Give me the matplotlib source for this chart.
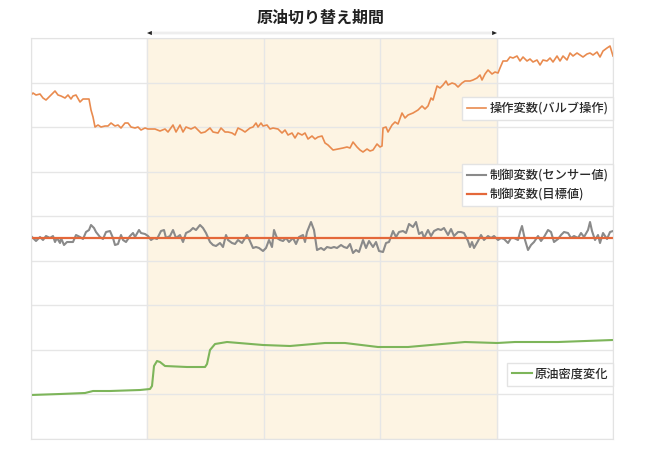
import numpy as np
import matplotlib.pyplot as plt

plt.rcParams["font.family"] = ["Noto Sans CJK JP", "DejaVu Sans"]

# ===================================================
# DATA (time in samples, values in arbitrary units)
# ===================================================

t_end = 582
switch_start = 116
switch_end = 466

# 操作変数(バルブ操作)
mv_time = [
    0, 2, 5, 9, 12, 15, 19, 22, 24, 27,
    30, 34, 37, 40, 42, 45, 49, 52, 55, 58,
    60, 62, 64, 67, 70, 74, 77, 80, 84, 87,
    90, 94, 97, 100, 104, 107, 110, 114, 117, 124,
    129, 134, 137, 142, 145, 149, 152, 155, 160, 164,
    167, 170, 174, 179, 182, 187, 190, 194, 197, 201,
    204, 207, 211, 214, 219, 222, 225, 227, 230, 232,
    236, 239, 242, 247, 251, 254, 257, 261, 264, 267,
    271, 274, 277, 281, 284, 287, 291, 294, 297, 302,
    307, 312, 316, 319, 322, 326, 329, 332, 336, 339,
    342, 346, 349, 351, 352, 355, 357, 361, 364, 367,
    371, 374, 377, 382, 387, 391, 394, 397, 400, 402,
    406, 409, 412, 415, 417, 421, 424, 427, 431, 434,
    439, 442, 446, 449, 451, 454, 457, 461, 464, 467,
    469, 472, 476, 479, 482, 486, 489, 492, 496, 499,
    502, 506, 509, 512, 516, 519, 522, 526, 529, 532,
    536, 539, 542, 546, 549, 552, 556, 559, 562, 566,
    569, 572, 576, 579, 582,
]
mv_value = [
    344, 346, 344, 345, 341, 339, 343, 346, 348, 344,
    343, 341, 344, 340, 343, 344, 337, 340, 340, 340,
    329, 322, 312, 314, 312, 313, 313, 316, 313, 314,
    311, 316, 316, 312, 311, 312, 309, 311, 310, 310,
    308, 310, 307, 314, 307, 314, 307, 312, 310, 312,
    309, 306, 307, 311, 307, 306, 311, 307, 307, 306,
    304, 311, 309, 307, 311, 312, 316, 312, 316, 313,
    314, 310, 311, 310, 306, 309, 304, 306, 301, 306,
    304, 306, 300, 303, 300, 302, 303, 296, 294, 289,
    290, 291, 292, 291, 297, 292, 289, 287, 290, 288,
    289, 295, 292, 293, 311, 312, 307, 314, 317, 315,
    326, 321, 324, 326, 329, 333, 330, 333, 341, 339,
    353, 351, 354, 358, 354, 356, 355, 352, 356, 358,
    358, 359, 361, 364, 359, 365, 369, 365, 367, 366,
    371, 378, 378, 382, 381, 383, 378, 382, 378, 380,
    377, 379, 374, 379, 378, 381, 377, 383, 378, 383,
    379, 386, 383, 386, 384, 382, 385, 386, 384, 387,
    382, 388, 391, 393, 383,
]

# 制御変数(センサー値)
pv_time = [
    0, 2, 5, 9, 12, 15, 19, 22, 24, 26,
    29, 30, 33, 36, 39, 42, 45, 49, 52, 55,
    58, 60, 63, 65, 69, 72, 75, 79, 82, 84,
    87, 90, 92, 95, 99, 102, 104, 108, 110, 114,
    117, 120, 123, 126, 130, 133, 135, 139, 142, 145,
    149, 152, 155, 159, 162, 165, 169, 172, 175, 179,
    182, 185, 189, 192, 195,
    197, 201, 204, 207, 211, 216, 218, 222, 225, 228,
    232, 235, 238, 241, 243, 246, 249, 252, 255, 258,
    262, 265, 268, 272, 274, 276, 280, 283, 286, 290,
    293, 296, 300, 303, 306, 310, 313, 316, 319, 322,
    325, 328, 332, 335, 338, 342, 345, 348, 352, 355,
    358, 362, 365, 368, 372, 375, 378, 382, 385,
    388, 391, 393, 397, 400, 403, 407, 410, 413, 417,
    420, 423, 427, 430, 433, 437, 439, 441, 443, 447,
    450, 453, 457, 460, 463, 467, 470, 473, 477, 480,
    483, 487, 489, 491, 494, 497, 500, 503, 507, 510,
    513, 517, 520, 523, 527, 530, 533, 537, 540, 543,
    547, 550, 553, 557, 559, 561, 564, 567, 569, 572,
    576, 579, 582,
]
pv_value = [
    203, 201, 198, 202, 199, 203, 201, 203, 197, 201,
    196, 201, 194, 197, 197, 197, 204, 202, 200, 207,
    209, 214, 211, 207, 202, 200, 207, 208, 201, 194,
    195, 204, 199, 197, 203, 206, 202, 209, 206, 205,
    203, 199, 201, 200, 208, 209, 201, 203, 209, 201,
    204, 197, 206, 208, 211, 209, 214, 211, 206, 197,
    194, 193, 196, 192, 204,
    199, 196, 195, 199, 196, 204, 200, 191, 192, 191,
    188, 191, 199, 192, 209, 201, 199, 198, 201, 197,
    201, 195, 202, 204, 197, 207, 217, 209, 189, 191,
    189, 192, 191, 192, 191, 194, 192, 191, 195, 186,
    189, 187, 199, 191, 198, 192, 197, 188, 187, 196,
    197, 208, 202, 207, 208, 206, 215, 212, 217,
    205, 207, 201, 209, 203, 208, 210, 209, 211, 204,
    210, 203, 207, 207, 206, 198, 192, 197, 191, 198,
    204, 199, 203, 201, 203, 199, 201, 200, 196, 201,
    201, 199, 207, 213, 199, 189, 194, 197, 203, 198,
    202, 209, 207, 197, 200, 204, 207, 206, 201, 203,
    201, 206, 202, 209, 217, 208, 199, 204, 196, 206,
    200, 207, 208,
]

# 制御変数(目標値)
sp_value = 201

# 原油密度変化
density_time = [
    0, 29, 54, 62, 79, 109, 119, 121, 123, 126,
    129, 134, 156, 174, 176, 179, 184, 196, 232, 259,
    294, 314, 347, 377, 411, 434, 466, 484, 527, 582,
]
density_value = [
    44, 45, 46, 48, 48, 49, 50, 53, 73, 78,
    77, 73, 72, 72, 75, 89, 95, 97, 94, 93,
    96, 96, 92, 92, 95, 97, 96, 97, 97, 99,
]

# ===================================================
# PLOT
# ===================================================

fig = plt.figure(
    figsize=(6.5, 4.53),
    dpi=100
)

ax = fig.add_axes([0.0477, 0.0309, 0.8954, 0.8852])

ax.axvspan(
    switch_start,
    switch_end,
    color="#FDF4E3",
    zorder=0
)

mv_line, = ax.plot(
    mv_time,
    mv_value,
    color="#E98B4F",
    lw=1.2,
    label="操作変数(バルブ操作)"
)

pv_line, = ax.plot(
    pv_time,
    pv_value,
    color="#8A8A8A",
    lw=1.5,
    label="制御変数(センサー値)"
)

sp_line = ax.axhline(
    sp_value,
    color="#E4683A",
    lw=1.6,
    label="制御変数(目標値)"
)

density_line, = ax.plot(
    density_time,
    density_value,
    color="#7DB55A",
    lw=1.5,
    label="原油密度変化"
)

# Axes / grid
ax.set_xlim(0, t_end)
ax.set_ylim(0, 401)
ax.set_xticks(np.linspace(0, t_end, 6))
ax.set_yticks(np.linspace(0, 401, 10))
ax.tick_params(length=0, labelbottom=False, labelleft=False)
ax.set_axisbelow(True)
ax.grid(color="#E6E6E6", lw=1.0)

for spine in ax.spines.values():
    spine.set_color("#E3E3E3")

# Switch period arrow + title
ax.annotate(
    "",
    xy=(switch_end, 406),
    xytext=(switch_start, 406),
    arrowprops=dict(arrowstyle="-", color="#EEEEEE", lw=2),
    annotation_clip=False
)

ax.annotate(
    "",
    xy=(switch_end, 406),
    xytext=(switch_start, 406),
    arrowprops=dict(
        arrowstyle="<|-|>,head_length=0.35,head_width=0.15",
        color="#222222",
        lw=0.0,
        shrinkA=0,
        shrinkB=0
    ),
    annotation_clip=False
)

fig.text(
    0.493,
    0.96,
    "原油切り替え期間",
    ha="center",
    va="center",
    fontsize=11.5,
    fontweight="bold",
    color="#222222"
)

# Legends
legend_kw = dict(
    prop=dict(size=8.8, weight="medium"),
    frameon=True,
    fancybox=False,
    framealpha=1,
    edgecolor="#E3E3E3",
    borderaxespad=0,
    handlelength=1.6,
    handletextpad=0.25,
    labelcolor="#2A2A2A"
)

leg1 = ax.legend(
    handles=[mv_line],
    loc="upper right",
    bbox_to_anchor=(1.0, 0.853),
    **legend_kw
)
ax.add_artist(leg1)

leg2 = ax.legend(
    handles=[pv_line, sp_line],
    loc="upper right",
    bbox_to_anchor=(1.0, 0.686),
    **legend_kw
)
ax.add_artist(leg2)

ax.legend(
    handles=[density_line],
    loc="upper right",
    bbox_to_anchor=(1.0, 0.19),
    **legend_kw
)

# ===================================================
# SAVE
# ===================================================

fig.savefig("out.png", dpi=100)
